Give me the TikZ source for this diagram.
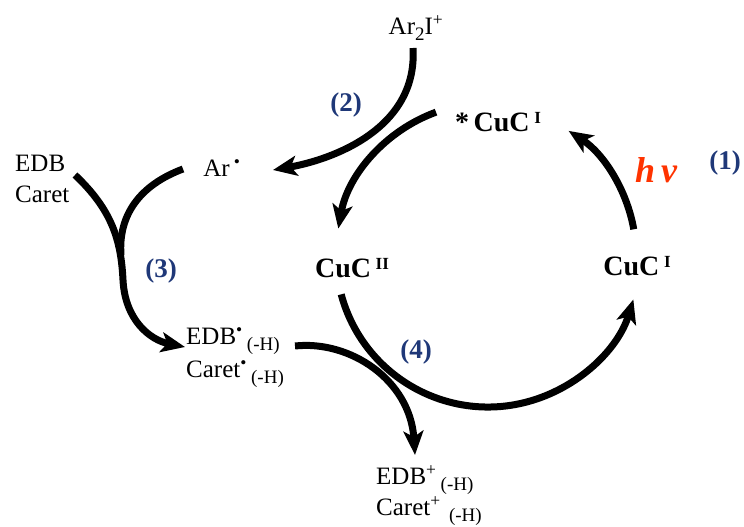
\documentclass[tikz,border=0pt]{standalone}
\usepackage{fontspec}
\setmainfont{Liberation Serif}
\usetikzlibrary{arrows.meta}
\definecolor{stepblue}{RGB}{31,56,120}
\definecolor{hvred}{RGB}{255,51,0}
\newcommand\ox[1]{\raisebox{8pt}{\fontsize{17}{17}\selectfont #1}}
\newcommand\dn[1]{\raisebox{-6pt}{\fontsize{19}{19}\selectfont #1}}

\begin{document}
\begin{tikzpicture}[x=1pt,y=-1pt,>=Stealth,
  rxn/.style={line width=7pt,-{Stealth[length=24pt,width=20pt,inset=6pt]}},
  bar/.style={line width=7pt},
  spec/.style={inner sep=0pt,font=\fontsize{25}{31}\selectfont,align=left},
  cat/.style={inner sep=0pt,font=\fontsize{28}{32}\selectfont\bfseries},
  stepno/.style={inner sep=0pt,text=stepblue,font=\fontsize{27}{30}\selectfont\bfseries}]
\useasboundingbox (0,0) rectangle (744,527);
% species
\node[spec] (ar2i) at (416,28) {Ar\dn{2}I\textsuperscript{+}};
\node[spec] (ar) at (222,168) {Ar\,\textsuperscript{•}};
\node[spec,anchor=north west] (edb) at (15,155) {EDB\\Caret};
\node[spec,anchor=north west] (edbrad) at (186,327) {EDB\textsuperscript{•}\,\dn{(-H)}\\[2pt]Caret\textsuperscript{•}\,\dn{(-H)}};
\node[spec,anchor=north west] (edbplus) at (376,465) {EDB\textsuperscript{+}\,\dn{(-H)}\\Caret\textsuperscript{+}\,\,\dn{(-H)}};
% catalyst states
\node[cat] (cuIex) at (498,122) {*\,CuC\,\ox{I}};
\node[cat] (cuII) at (352,268) {CuC\,\ox{II}};
\node[cat] (cuI) at (637,266) {CuC\,\ox{I}};
% step labels
\node[stepno] (n1) at (725,163) {(1)};
\node[stepno] (n2) at (346,105) {(2)};
\node[stepno] (n3) at (161,271) {(3)};
\node[stepno] (n4) at (416,352) {(4)};
\node[inner sep=0pt,text=hvred,font=\fontsize{36}{38}\selectfont\bfseries\itshape] (hv) at (656,170) {h\,ν};
% cycle
\coordinate (ctr) at (488,255);
\coordinate (cuIout) at ([shift={(-10:148)}]ctr);
\coordinate (cuIexout) at ([shift={(-110:152)}]ctr);
\coordinate (cuIIout) at ([shift={(165:152)}]ctr);
\draw[rxn] (cuIout) arc[start angle=-10,end angle=-57,radius=148];
\draw[rxn] (cuIexout) arc[start angle=-110,end angle=-170,radius=152];
\draw[rxn] (cuIIout) arc[start angle=165,end angle=17,radius=152];
% side reactions
\coordinate (ar2iout) at (413,48);
\coordinate (arin) at (273,170);
\coordinate (arout) at (183,169);
\coordinate (edbout) at (75,175);
\coordinate (edbradin) at (185,347);
\coordinate (edbradout) at (295,346);
\coordinate (edbplusin) at (415,455);
\coordinate (merge) at (121,255);
\draw[rxn] (ar2iout) .. controls (418,130) and (330,160) .. (arin);
\draw[bar] (arout) .. controls (140,185) and (118,215) .. (merge);
\draw[rxn] (edbout) .. controls (112,210) and (121,240) .. (123,280)
  .. controls (125,320) and (150,340) .. (edbradin);
\draw[rxn] (edbradout) .. controls (350,340) and (410,380) .. (edbplusin);
\end{tikzpicture}
\end{document}
